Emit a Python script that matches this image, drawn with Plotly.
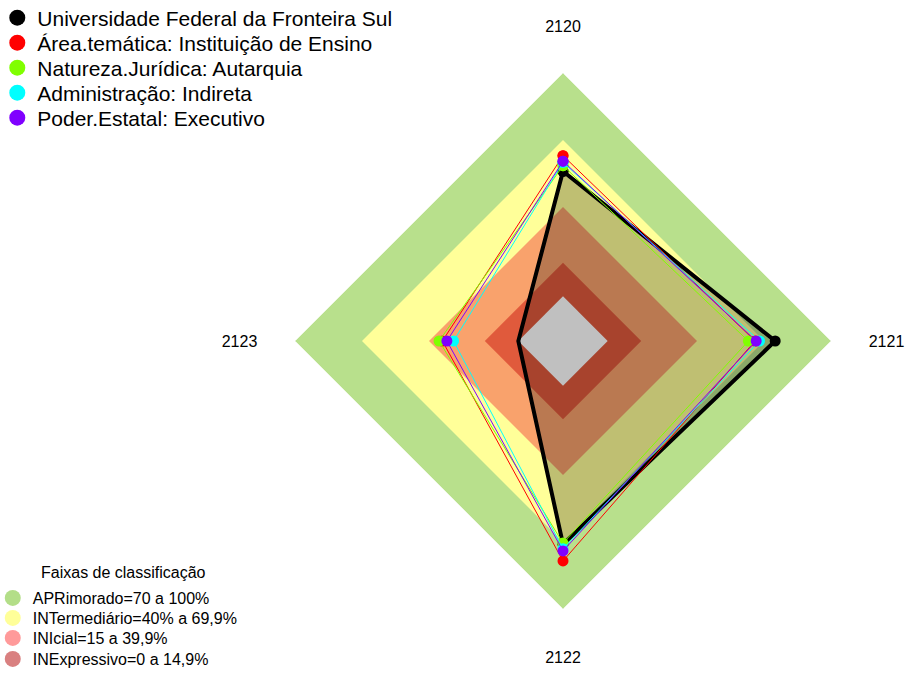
import plotly.graph_objects as go

eixos = ["2120", "2121", "2122", "2123"]

series_nomes = [
    "Universidade Federal da Fronteira Sul",
    "Área.temática: Instituição de Ensino",
    "Natureza.Jurídica: Autarquia",
    "Administração: Indireta",
    "Poder.Estatal: Executivo",
]
series_cores = ["#000000", "#ff0000", "#80ff00", "#00ffff", "#8000ff"]

unifronteira = [56, 75, 71, 0]
area_tematica = [63, 66, 78.5, 34]
natureza = [58.5, 63, 70.5, 35.5]
administracao = [60, 68, 73, 29]
poder = [60.5, 66.5, 74, 32]
series_valores = [unifronteira, area_tematica, natureza, administracao, poder]

faixas_nomes = [
    "APRimorado=70 a 100%",
    "INTermediário=40% a 69,9%",
    "INIcial=15 a 39,9%",
    "INExpressivo=0 a 14,9%",
]
faixas_limites = [100, 70, 40, 15]
faixas_cores = ["#b8e08c", "#ffff99", "#f9a26c", "#e05a3c"]
faixas_legenda = ["#b3de88", "#ffff99", "#ff9a9a", "#d98080"]

theta = eixos + eixos[:1]
W, H = 905, 675

fig = go.Figure()

# faixas de fundo
for lim, cor in zip(faixas_limites, faixas_cores):
    fig.add_trace(go.Scatterpolar(
        r=[lim] * len(theta), theta=theta, mode="lines", fill="toself",
        fillcolor=cor, line=dict(width=0, color=cor),
        showlegend=False, hoverinfo="skip"))

# sombra da universidade
fig.add_trace(go.Scatterpolar(
    r=unifronteira + unifronteira[:1], theta=theta, mode="lines", fill="toself",
    fillcolor="rgba(0,0,0,0.25)", line=dict(width=0),
    showlegend=False, hoverinfo="skip"))

# centro cinza
fig.add_trace(go.Scatterpolar(
    r=[0] * len(theta), theta=theta, mode="lines", fill="toself",
    fillcolor="#c0c0c0", line=dict(width=0, color="#c0c0c0"),
    showlegend=False, hoverinfo="skip"))

larguras = [4, 1, 1, 1, 1]
for i in range(len(series_nomes)):
    vals = series_valores[i]
    fig.add_trace(go.Scatterpolar(
        r=vals + vals[:1], theta=theta, mode="lines+markers",
        line=dict(color=series_cores[i], width=larguras[i]),
        marker=dict(color=series_cores[i], size=11),
        name=series_nomes[i], showlegend=False))

# uma legenda por linha, para controlar o espaçamento
legendas = {}
linhas_series = [18, 43, 68, 93, 118]
for i in range(len(series_nomes)):
    lg = "legend" if i == 0 else "legend%d" % (i + 1)
    fig.add_trace(go.Scatterpolar(
        r=[None], theta=[None], mode="markers",
        marker=dict(color=series_cores[i], size=16),
        name=series_nomes[i], legend=lg))
    legendas[lg] = dict(x=-0.003, y=1 - linhas_series[i] / H,
                        xanchor="left", yanchor="middle",
                        font=dict(size=21), bgcolor="rgba(0,0,0,0)")

linhas_faixas = [598, 618, 638, 659]
for j in range(len(faixas_nomes)):
    lg = "legend%d" % (j + 6)
    fig.add_trace(go.Scatterpolar(
        r=[None], theta=[None], mode="markers",
        marker=dict(color=faixas_legenda[j], size=16),
        name=faixas_nomes[j], legend=lg))
    legendas[lg] = dict(x=-0.008, y=1 - linhas_faixas[j] / H,
                        xanchor="left", yanchor="middle",
                        font=dict(size=16), bgcolor="rgba(0,0,0,0)")

fig.add_annotation(text="Faixas de classificação", xref="paper", yref="paper",
                   x=124 / W, y=1 - 572 / H,
                   xanchor="center", yanchor="middle", showarrow=False,
                   font=dict(size=16))

fig.update_layout(
    width=W, height=H,
    margin=dict(l=0, r=0, t=0, b=0, autoexpand=False),
    paper_bgcolor="white",
    font=dict(family="Liberation Sans, Arial", color="black"),
    polar=dict(
        domain=dict(x=[295 / W, 831 / W], y=[1 - 609 / H, 1 - 73 / H]),
        gridshape="linear",
        bgcolor="white",
        radialaxis=dict(range=[-20, 100], showticklabels=False, ticks="",
                        showline=False, tickvals=[0, 15, 40, 70],
                        gridcolor="rgba(235,235,235,0.35)", layer="above traces"),
        angularaxis=dict(rotation=90, direction="clockwise", showline=False,
                         gridcolor="rgba(225,225,225,0.7)", layer="above traces",
                         ticks="outside", ticklen=34, tickcolor="rgba(0,0,0,0)",
                         tickfont=dict(size=16)),
    ),
    **legendas,
)

# tira a margem padrão do body para a figura ocupar a janela toda
fig.write_html("out.html", config={"displayModeBar": False},
               post_script="document.body.style.margin='0px';")
